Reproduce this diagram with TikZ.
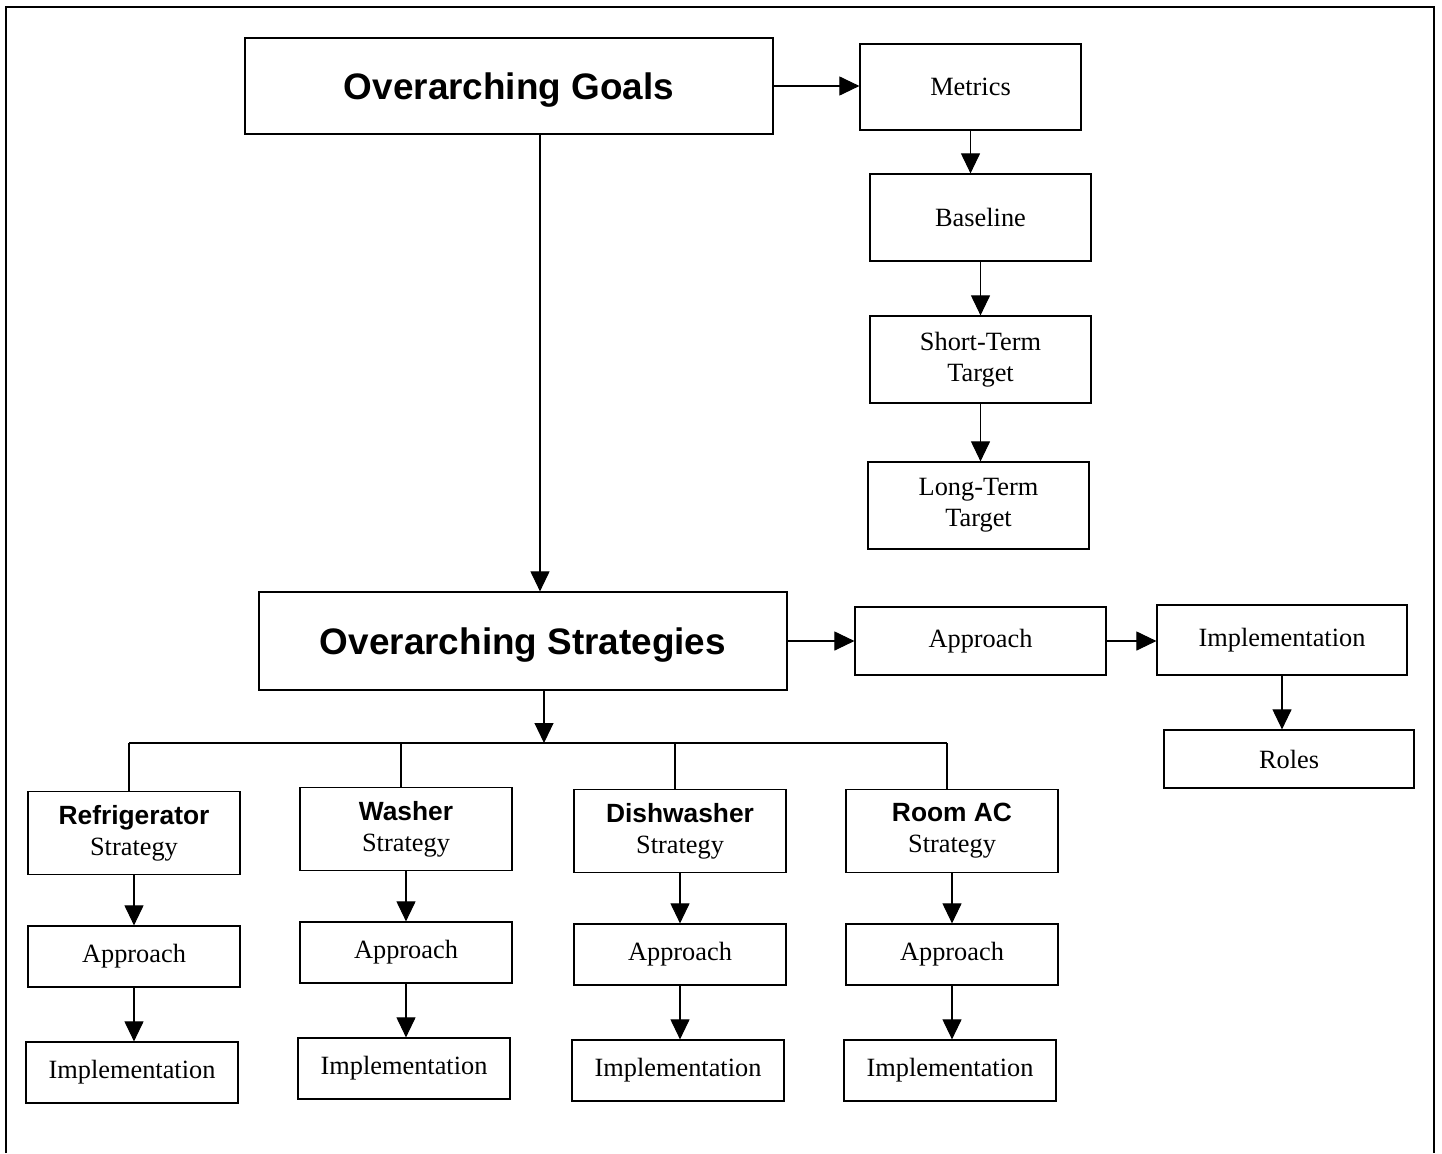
\documentclass[tikz,border=0pt]{standalone}
\usepackage{fontspec}
\setmainfont{Liberation Serif}
\setsansfont{Liberation Sans}
\usetikzlibrary{arrows.meta}

\newcommand{\hd}[1]{{\sffamily\bfseries #1}}

\begin{document}
\begin{tikzpicture}[x=0.02cm, y=-0.02cm,
    box/.style={draw, line width=0.7pt, align=center, inner sep=0pt,
      font=\fontsize{15}{17.6}\selectfont},
    big/.style={box, text height=15pt, text depth=0pt,
      font=\fontsize{21}{25}\selectfont\sffamily\bfseries},
    arr/.style={-{Triangle[length=0.4cm, width=0.38cm]}, line width=0.6pt}]
  \useasboundingbox (0,0) rectangle (1442,1153);
  \draw[line width=1pt] (6,1153) -- (6,7) -- (1434,7) -- (1434,1153);

  % goals and targets
  \node[big, minimum width=10.56cm, minimum height=1.92cm] (goals) at (509,86) {Overarching Goals};
  \node[box, minimum width=4.42cm, minimum height=1.72cm] (metrics) at (970.5,87) {Metrics};
  \node[box, minimum width=4.42cm, minimum height=1.74cm] (base) at (980.5,217.5) {Baseline};
  \node[box, minimum width=4.42cm, minimum height=1.74cm] (short) at (980.5,359.5) {Short-Term\\Target};
  \node[box, minimum width=4.42cm, minimum height=1.74cm] (long) at (978.5,505.5) {Long-Term\\Target};

  % strategies
  \node[big, minimum width=10.56cm, minimum height=1.96cm] (strat) at (523,641) {Overarching Strategies};
  \node[box, minimum width=5.02cm, minimum height=1.36cm] (appr) at (980.5,641) {Approach};
  \node[box, minimum width=5cm, minimum height=1.4cm] (impl) at (1282,640) {Implementation};
  \node[box, minimum width=5cm, minimum height=1.16cm] (roles) at (1289,759) {Roles};

  \draw[arr] (goals.east) -- (goals.east -| metrics.west);
  \draw[arr] (metrics) -- (metrics |- base.north);
  \draw[arr] (base) -- (short);
  \draw[arr] (short) -- (short |- long.north);
  \draw[arr] ([xshift=0.62cm]goals.south) -- ([xshift=0.62cm]goals.south |- strat.north);
  \draw[arr] (strat.east) -- (strat.east -| appr.west);
  \draw[arr] (appr.east) -- (appr.east -| impl.west);
  \draw[arr] (impl) -- (impl |- roles.north);

  % one column per appliance
  \coordinate (bus) at (0,743);
  \foreach \n/\t/\x/\y in {ref/Refrigerator/134/833, wash/Washer/406/829,
      dish/Dishwasher/680/831, ac/Room AC/952/831} {
    \node[box, minimum width=4.24cm, minimum height=1.66cm] (\n) at (\x,\y) {\hd{\t}\\Strategy};
    \node[box, minimum width=4.24cm, minimum height=1.22cm] (\n-appr) at (\x,\y+123.5) {Approach};
    \node[box, minimum width=4.24cm, minimum height=1.22cm] (\n-impl) at (\x-2,\y+239.5) {Implementation};
    \draw[line width=0.6pt] ([xshift=-0.1cm]\n.north) -- ([xshift=-0.1cm]\n.north |- bus);
    \draw[arr] (\n) -- (\n-appr);
    \draw[arr] (\n-appr) -- (\n-appr |- \n-impl.north);
  }
  \draw[line width=0.6pt] ([xshift=-0.1cm]ref.north |- bus) -- ([xshift=-0.1cm]ac.north |- bus);
  \draw[arr] ([xshift=0.42cm]strat.south) -- ([xshift=0.42cm]strat.south |- bus);
\end{tikzpicture}
\end{document}
